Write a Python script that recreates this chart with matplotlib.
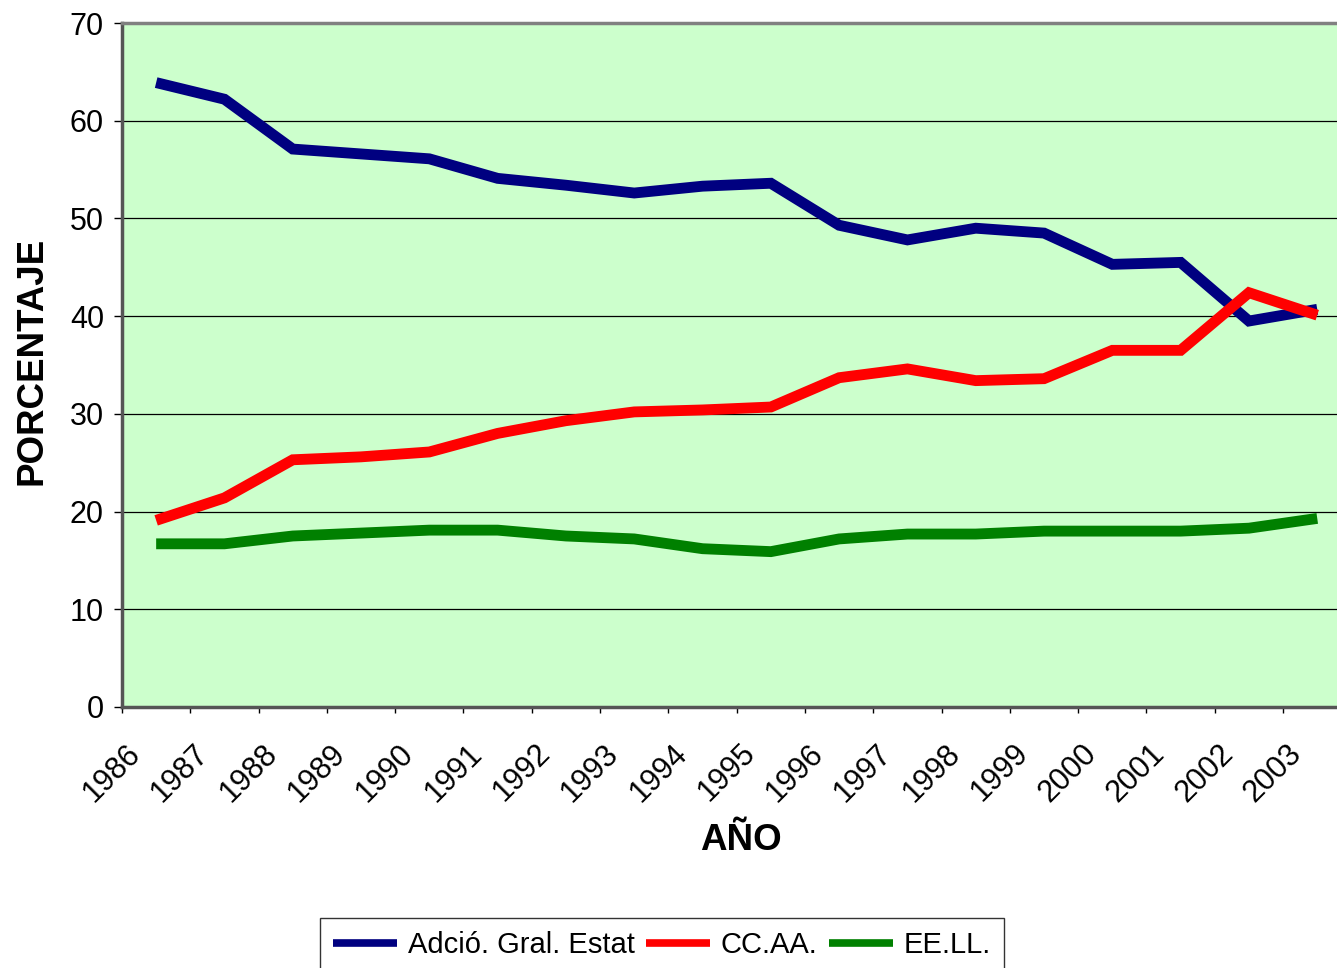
import matplotlib
matplotlib.use("Agg")
import matplotlib.pyplot as plt
import matplotlib.transforms as mtransforms
import numpy as np

years = [str(y) for y in range(1986, 2004)]
adcio = [63.9, 62.2, 57.1, 56.6, 56.1, 54.1, 53.4, 52.6, 53.3, 53.6,
         49.3, 47.8, 49.0, 48.5, 45.3, 45.5, 39.5, 40.7]
ccaa = [19.1, 21.4, 25.3, 25.6, 26.1, 28.0, 29.3, 30.2, 30.4, 30.7,
        33.7, 34.6, 33.4, 33.6, 36.5, 36.5, 42.4, 40.1]
eell = [16.7, 16.7, 17.5, 17.8, 18.1, 18.1, 17.5, 17.2, 16.2, 15.9,
        17.2, 17.7, 17.7, 18.0, 18.0, 18.0, 18.3, 19.3]

plt.rcParams['font.family'] = ['Liberation Sans', 'DejaVu Sans']

W, H = 1337, 968
fig = plt.figure(figsize=(W / 100, H / 100), dpi=100)
# plot area runs past the right edge of the image, as in the original
ax = fig.add_axes([122 / W, 1 - 707 / H, 18 * 68.3 / W, 684 / H])
ax.set_facecolor('#CCFFCC')

x = np.arange(len(years)) + 0.5
style = dict(lw=7.8, solid_joinstyle='miter', solid_capstyle='butt')
ax.plot(x, adcio, color='#000080', label='Adció. Gral. Estat', **style)
ax.plot(x, ccaa, color='#FF0000', label='CC.AA.', **style)
ax.plot(x, eell, color='#008000', label='EE.LL.', **style)

ax.set_xlim(0, len(years))
ax.set_ylim(0, 70)
ax.set_yticks(range(0, 71, 10))
ax.yaxis.grid(True, color='black', lw=0.9)
ax.set_axisbelow(True)

ax.set_xticks(np.arange(len(years)))
ax.set_xticklabels([])
ax.tick_params(axis='x', length=4.5, width=1)
ax.tick_params(axis='y', length=6, width=1, pad=7, labelsize=22)

# year labels: rotated 45 deg, right end just right of / below each tick
lab_trans = (mtransforms.blended_transform_factory(ax.transData, ax.transAxes)
             + mtransforms.ScaledTranslation(0.14, -0.42, fig.dpi_scale_trans))
for i, yr in enumerate(years):
    ax.text(i, 0, yr, transform=lab_trans, rotation=45, rotation_mode='anchor',
            ha='right', va='center', fontsize=22, clip_on=False)

for side in ['left', 'bottom']:
    ax.spines[side].set_color('#555555')
    ax.spines[side].set_linewidth(2.5)
ax.spines['top'].set_color('#808080')
ax.spines['top'].set_linewidth(2.5)
ax.spines['right'].set_visible(False)

fig.text(32 / W, 1 - 361 / H, 'PORCENTAJE', rotation=90, fontsize=26.5,
         fontweight='bold', ha='center', va='center')
fig.text(741 / W, 1 - 841 / H, 'AÑO', fontsize=26.5, fontweight='bold',
         ha='center', va='center')

leg = fig.legend(loc='upper left', bbox_to_anchor=(320 / W, 1 - 918 / H), ncol=3,
                 fontsize=21, frameon=True, fancybox=False, borderaxespad=0,
                 handlelength=2.2, handletextpad=0.35, columnspacing=0.4,
                 borderpad=0.45)
leg.get_frame().set_edgecolor('black')
leg.get_frame().set_linewidth(1)
for line in leg.get_lines():
    line.set_linewidth(5.5)

fig.savefig('out.png', dpi=100)
